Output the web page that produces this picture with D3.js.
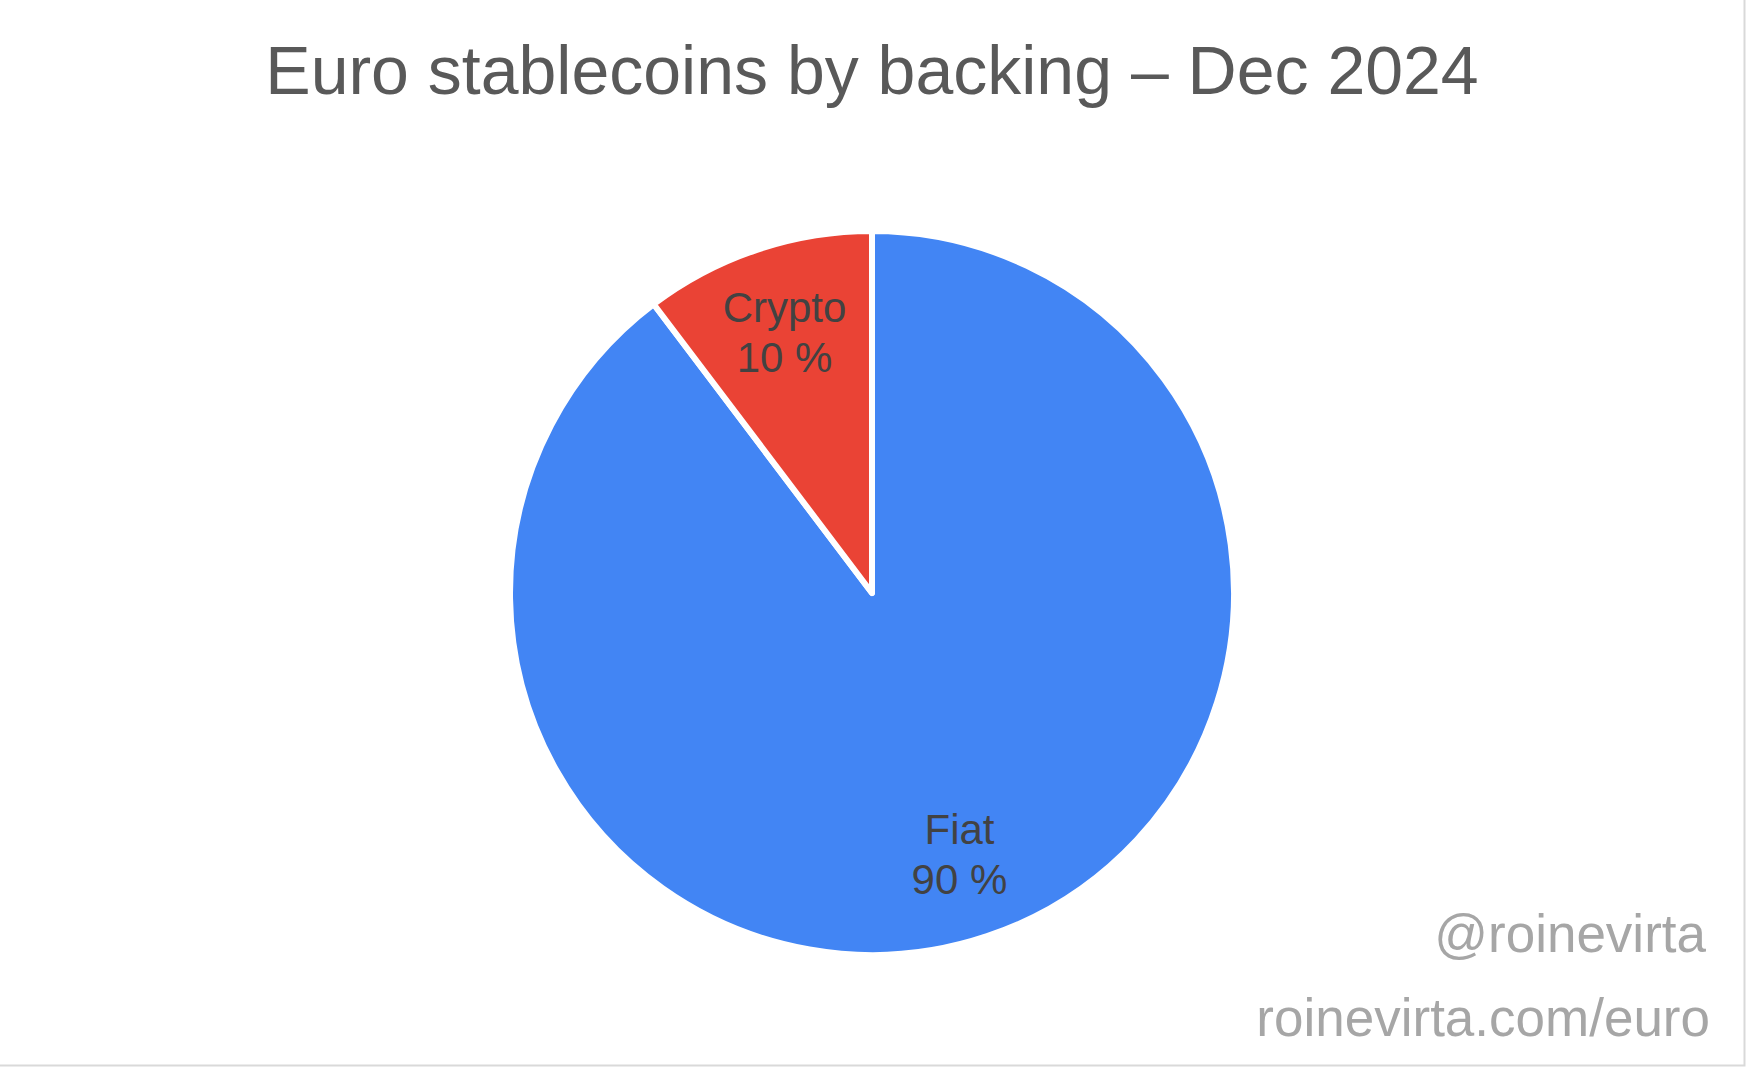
<!DOCTYPE html>
<html>
<head>
<meta charset="utf-8">
<script src="https://cdn.jsdelivr.net/npm/d3@7"></script>
<style>
  html, body { margin: 0; padding: 0; background: #fff; }
  svg { display: block; font-family: "Liberation Sans", Arial, sans-serif; }
</style>
</head>
<body>
<svg id="chart"></svg>
<script>
// data
const categories = ["Fiat", "Crypto"];
const shares = [89.7, 10.3];
const shareLabels = ["90 %", "10 %"];
const colors = ["#4285f4", "#ea4335"];

const titleText = "Euro stablecoins by backing \u2013 Dec 2024";
const credits = ["@roinevirta", "roinevirta.com/euro"];

const width = 1746, height = 1068;
const cx = 872, cy = 593, radius = 362;

const svg = d3.select("#chart")
  .attr("width", width)
  .attr("height", height)
  .attr("viewBox", [0, 0, width, height]);

// right/bottom frame edge
svg.append("path")
  .attr("d", `M${width - 1.5},0V${height - 2.5}H0`)
  .attr("fill", "none")
  .attr("stroke", "#d9d9d9")
  .attr("stroke-width", 2);

svg.append("text")
  .attr("x", cx)
  .attr("y", 94)
  .attr("text-anchor", "middle")
  .attr("fill", "#595959")
  .style("font-size", "68px")
  .text(titleText);

const data = categories.map((c, i) => ({ name: c, value: shares[i], label: shareLabels[i], color: colors[i] }));

const pie = d3.pie()
  .sort(null)
  .value(d => d.value);

const arc = d3.arc()
  .innerRadius(0)
  .outerRadius(radius);

const labelArc = d3.arc()
  .innerRadius(radius * 0.76)
  .outerRadius(radius * 0.76);

const g = svg.append("g")
  .attr("transform", `translate(${cx},${cy})`);

const slices = pie(data);

g.selectAll("path.slice")
  .data(slices)
  .join("path")
  .attr("class", "slice")
  .attr("d", arc)
  .attr("fill", d => d.data.color)
  .attr("stroke", "#fff")
  .attr("stroke-width", 6)
  .attr("stroke-linejoin", "round");

const labels = g.selectAll("g.label")
  .data(slices)
  .join("g")
  .attr("class", "label")
  .attr("transform", d => `translate(${labelArc.centroid(d)})`)
  .attr("fill", "#424242")
  .style("font-size", "42px")
  .attr("text-anchor", "middle");

labels.append("text")
  .attr("y", -10)
  .text(d => d.data.name);

labels.append("text")
  .attr("y", 40)
  .text(d => d.data.label);

svg.selectAll("text.credit")
  .data(credits)
  .join("text")
  .attr("class", "credit")
  .attr("x", (d, i) => i === 0 ? 1706 : 1710)
  .attr("y", (d, i) => 952 + i * 84)
  .attr("text-anchor", "end")
  .attr("fill", "#a6a6a6")
  .style("font-size", "53px")
  .text(d => d);
</script>
</body>
</html>
